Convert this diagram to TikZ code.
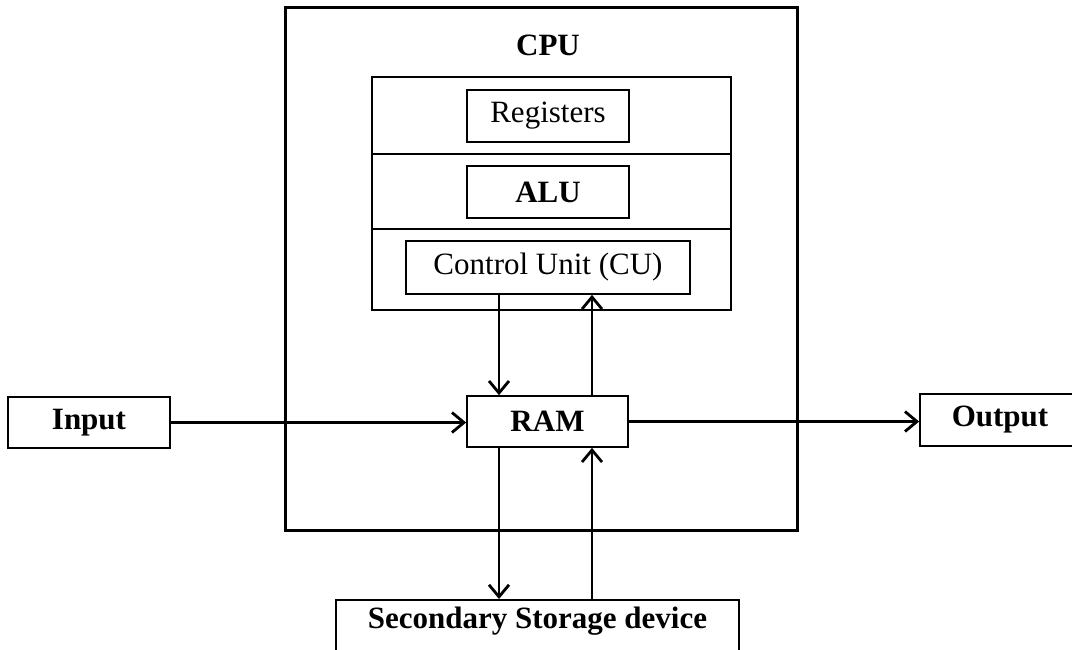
\documentclass[tikz,border=0pt]{standalone}
\usepackage{fontspec}
\setmainfont{Liberation Serif}
\usepackage{tikz}
\usetikzlibrary{arrows.meta}
\newcommand{\bigfont}{\fontsize{31}{37}\selectfont}
\tikzset{
  unitbox/.style={draw, line width=1.7pt, inner sep=0pt, font=\bigfont},
  flow/.style={line width=2.8pt, -{Straight Barb[length=12pt,width=20pt,line width=2.8pt]}}
}

\begin{document}
\begin{tikzpicture}[x=1pt,y=-1pt]
        \useasboundingbox (0,0) rectangle (1072,649);
        % cpu and its parts
        \node[draw, line width=3pt, minimum width=512pt, minimum height=523pt] (cpu) at (541,268.5) {};
        \node[font=\bigfont\bfseries] (cputitle) at (548,45) {CPU};
        \node[unitbox, minimum width=359pt, minimum height=233pt] (core) at (551.5,193.5) {};
        \draw[line width=1.7pt] (core.west |- 0,154) -- (core.east |- 0,154);
        \draw[line width=1.7pt] (core.west |- 0,229) -- (core.east |- 0,229);
        \node[unitbox, minimum width=162pt, minimum height=52pt] (reg) at (548,116) {Registers};
        \node[unitbox, minimum width=162pt, minimum height=52pt, font=\bigfont\bfseries] (alu) at (548,192) {ALU};
        \node[unitbox, minimum width=284pt, minimum height=53pt] (cu) at (548,267.5) {Control Unit (CU)};
        \node[unitbox, minimum width=161pt, minimum height=51pt, font=\bigfont\bfseries] (ram) at (547.5,421.5) {RAM};
        % outside units
        \node[unitbox, minimum width=162pt, minimum height=51pt, font=\bigfont\bfseries] (in) at (89,422.5) {Input};
        \node[unitbox, minimum width=160pt, minimum height=52pt, font=\bigfont\bfseries] (out) at (1000,420) {Output};
        \node[unitbox, minimum width=403pt, minimum height=70pt, anchor=north] (sec) at (537.5,599) {};
        \node[font=\bigfont\bfseries] (sectext) at (537.5,621) {Secondary Storage device};
        \coordinate (dn) at (499,0);
        \coordinate (up) at (592,0);
        % data paths
        \draw[flow] (cu.south -| dn) -- (ram.north -| dn);
        \draw[flow] (ram.north -| up) -- (cu.south -| up);
        \draw[flow] (in.east) -- (in.east -| ram.west);
        \draw[flow] (ram.east) -- (ram.east -| out.west);
        \draw[flow] (ram.south -| dn) -- (sec.north -| dn);
        \draw[flow] (sec.north -| up) -- (ram.south -| up);
\end{tikzpicture}
\end{document}
